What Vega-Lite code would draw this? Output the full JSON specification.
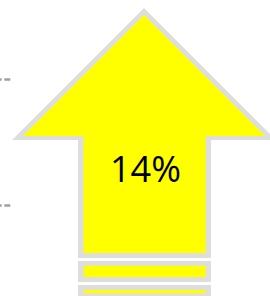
{
  "$schema": "https://vega.github.io/schema/vega-lite/v6.json",
  "width": 270,
  "height": 296,
  "autosize": {"type": "none"},
  "padding": 0,
  "background": "white",
  "config": {"view": {"stroke": null}},
  "datasets": {
    "headOuter": [
      {"x": 12, "y": 140, "y2": 140},
      {"x": 144, "y": 8, "y2": 140},
      {"x": 276, "y": 140, "y2": 140}
    ],
    "headInner": [
      {"x": 23, "y": 136, "y2": 136},
      {"x": 144, "y": 15, "y2": 136},
      {"x": 265, "y": 136, "y2": 136}
    ],
    "rectsOuter": [
      {"part": "shaft", "x": 78, "x2": 211, "y": 136, "y2": 258},
      {"part": "bar1", "x": 78, "x2": 211, "y": 261, "y2": 282},
      {"part": "bar2", "x": 78, "x2": 211, "y": 285, "y2": 300}
    ],
    "rectsInner": [
      {"part": "shaft", "x": 83.5, "x2": 205.7, "y": 135, "y2": 253},
      {"part": "bar1", "x": 83.7, "x2": 205.7, "y": 265.7, "y2": 277},
      {"part": "bar2", "x": 83.7, "x2": 205.7, "y": 290, "y2": 293.3}
    ],
    "guides": [
      {"x": 0, "x2": 10.3, "y": 79.5},
      {"x": 0, "x2": 10.3, "y": 205.5}
    ],
    "labels": [
      {"x": 145.5, "y": 182, "label": "14%"}
    ]
  },
  "layer": [
    {
      "data": {"name": "headOuter"},
      "mark": {"type": "area", "color": "#DEDEDE", "clip": true},
      "encoding": {
        "x": {"field": "x", "type": "quantitative", "scale": {"domain": [0, 270], "nice": false, "zero": false}, "axis": null},
        "y": {"field": "y", "type": "quantitative", "scale": {"domain": [0, 296], "reverse": true, "nice": false, "zero": false}, "axis": null},
        "y2": {"field": "y2"}
      }
    },
    {
      "data": {"name": "rectsOuter"},
      "mark": {"type": "rect", "color": "#DEDEDE", "clip": true},
      "encoding": {
        "x": {"field": "x", "type": "quantitative"},
        "x2": {"field": "x2"},
        "y": {"field": "y", "type": "quantitative"},
        "y2": {"field": "y2"}
      }
    },
    {
      "data": {"name": "headInner"},
      "mark": {"type": "area", "color": "#FFFF00", "clip": true},
      "encoding": {
        "x": {"field": "x", "type": "quantitative"},
        "y": {"field": "y", "type": "quantitative"},
        "y2": {"field": "y2"}
      }
    },
    {
      "data": {"name": "rectsInner"},
      "mark": {"type": "rect", "color": "#FFFF00", "clip": true},
      "encoding": {
        "x": {"field": "x", "type": "quantitative"},
        "x2": {"field": "x2"},
        "y": {"field": "y", "type": "quantitative"},
        "y2": {"field": "y2"}
      }
    },
    {
      "data": {"name": "guides"},
      "mark": {"type": "rule", "color": "#A0A0A0", "strokeWidth": 2.5, "strokeDash": [6, 2.6], "strokeDashOffset": 4.3},
      "encoding": {
        "x": {"field": "x", "type": "quantitative"},
        "x2": {"field": "x2"},
        "y": {"field": "y", "type": "quantitative"}
      }
    },
    {
      "data": {"name": "labels"},
      "mark": {"type": "text", "font": "Open Sans", "fontSize": 36, "color": "#000000", "align": "center", "baseline": "alphabetic"},
      "encoding": {
        "x": {"field": "x", "type": "quantitative"},
        "y": {"field": "y", "type": "quantitative"},
        "text": {"field": "label"}
      }
    }
  ]
}
